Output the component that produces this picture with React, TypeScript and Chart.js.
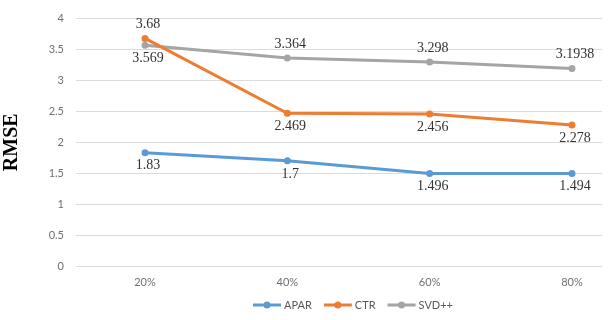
import React, { useEffect, useRef } from 'react';
import { Chart, registerables } from 'chart.js';

Chart.register(...registerables);

const categories = ['20%', '40%', '60%', '80%'];
const aparValues = [1.83, 1.7, 1.496, 1.494];
const ctrValues = [3.68, 2.469, 2.456, 2.278];
const svdValues = [3.569, 3.364, 3.298, 3.1938];
const aparLabels = ['1.83', '1.7', '1.496', '1.494'];
const ctrLabels = ['3.68', '2.469', '2.456', '2.278'];
const svdLabels = ['3.569', '3.364', '3.298', '3.1938'];
const seriesNames = ['APAR', 'CTR', 'SVD++'];

const COLORS = ['#5B9BD5', '#ED7D31', '#A5A5A5'];
const TICK_FONT = { family: 'Lato', size: 11 };
const TICK_COLOR = '#707070';

const labelPlugin = {
  id: 'pointLabels',
  afterDatasetsDraw(chart: any) {
    const ctx = chart.ctx;
    ctx.save();
    ctx.font = '14px "Liberation Serif"';
    ctx.fillStyle = '#333333';
    ctx.textAlign = 'center';
    ctx.textBaseline = 'middle';
    chart.data.datasets.forEach((ds: any, di: number) => {
      const meta = chart.getDatasetMeta(di);
      meta.data.forEach((pt: any, i: number) => {
        const above = ds.labelPos[i] === 'above';
        ctx.fillText(ds.labelText[i], pt.x + 3, pt.y + (above ? -14 : 13));
      });
    });
    ctx.restore();
  },
};

const legendPlugin = {
  id: 'lineLegend',
  afterDraw(chart: any) {
    const ctx = chart.ctx;
    const area = chart.chartArea;
    ctx.save();
    ctx.font = '11px Lato';
    ctx.textBaseline = 'middle';
    ctx.textAlign = 'left';
    let x = area.left + 177;
    const y = 305;
    chart.data.datasets.forEach((ds: any) => {
      ctx.strokeStyle = ds.borderColor;
      ctx.lineWidth = 3;
      ctx.beginPath();
      ctx.moveTo(x, y);
      ctx.lineTo(x + 28, y);
      ctx.stroke();
      ctx.fillStyle = ds.borderColor;
      ctx.beginPath();
      ctx.arc(x + 14, y, 3.5, 0, Math.PI * 2);
      ctx.fill();
      ctx.fillStyle = '#595959';
      ctx.fillText(ds.label, x + 31, y);
      x += 31 + ctx.measureText(ds.label).width + 12;
    });
    ctx.restore();
  },
};

export default function App() {
  const ref = useRef<HTMLCanvasElement | null>(null);

  useEffect(() => {
    document.body.style.margin = '0';
    if (!ref.current) return;
    const mk = (vals: number[]) => vals.map((v, i) => ({ x: i + 1, y: v }));
    const chart = new Chart(ref.current, {
      type: 'line',
      data: {
        datasets: [
          {
            label: seriesNames[0],
            data: mk(aparValues),
            borderColor: COLORS[0],
            backgroundColor: COLORS[0],
            labelText: aparLabels,
            labelPos: ['below', 'below', 'below', 'below'],
          },
          {
            label: seriesNames[1],
            data: mk(ctrValues),
            borderColor: COLORS[1],
            backgroundColor: COLORS[1],
            labelText: ctrLabels,
            labelPos: ['above', 'below', 'below', 'below'],
          },
          {
            label: seriesNames[2],
            data: mk(svdValues),
            borderColor: COLORS[2],
            backgroundColor: COLORS[2],
            labelText: svdLabels,
            labelPos: ['below', 'above', 'above', 'above'],
          },
        ] as any,
      },
      options: {
        animation: false,
        responsive: false,
        maintainAspectRatio: false,
        layout: { padding: { top: 15, right: 7, left: 0, bottom: 0 } },
        elements: {
          line: { borderWidth: 3, tension: 0 },
          point: { radius: 3.5, borderWidth: 0, hoverRadius: 3.5 },
        },
        plugins: {
          legend: { display: false },
          tooltip: { enabled: false },
        },
        scales: {
          x: {
            type: 'linear',
            min: 0.515,
            max: 4.211,
            grid: { display: false, drawTicks: false },
            border: { display: false },
            afterBuildTicks: (s: any) => {
              s.ticks = categories.map((_, i) => ({ value: i + 1 }));
            },
            afterFit: (s: any) => {
              s.height = 54;
            },
            ticks: {
              autoSkip: false,
              maxRotation: 0,
              padding: 10,
              font: TICK_FONT,
              color: TICK_COLOR,
              callback: (v: any) => categories[Math.round(Number(v)) - 1] ?? '',
            },
          },
          y: {
            min: 0,
            max: 4,
            grid: { color: '#dcdcdc', drawTicks: false, lineWidth: 1 },
            border: { display: false },
            afterFit: (s: any) => {
              s.width = 76;
            },
            ticks: {
              stepSize: 0.5,
              padding: 12,
              font: TICK_FONT,
              color: TICK_COLOR,
              callback: (v: any) => String(Number(v)),
            },
            title: {
              display: true,
              text: 'RMSE',
              color: '#000000',
              padding: 0,
              font: { family: 'Liberation Serif', size: 20, weight: 'bold' },
            },
          },
        },
      } as any,
      plugins: [labelPlugin, legendPlugin],
    });
    return () => chart.destroy();
  }, []);

  return (
    <div style={{ position: 'fixed', left: 0, top: 0, width: 609, height: 320, background: '#fff' }}>
      <canvas ref={ref} width={609} height={320} style={{ width: 609, height: 320 }} />
    </div>
  );
}
